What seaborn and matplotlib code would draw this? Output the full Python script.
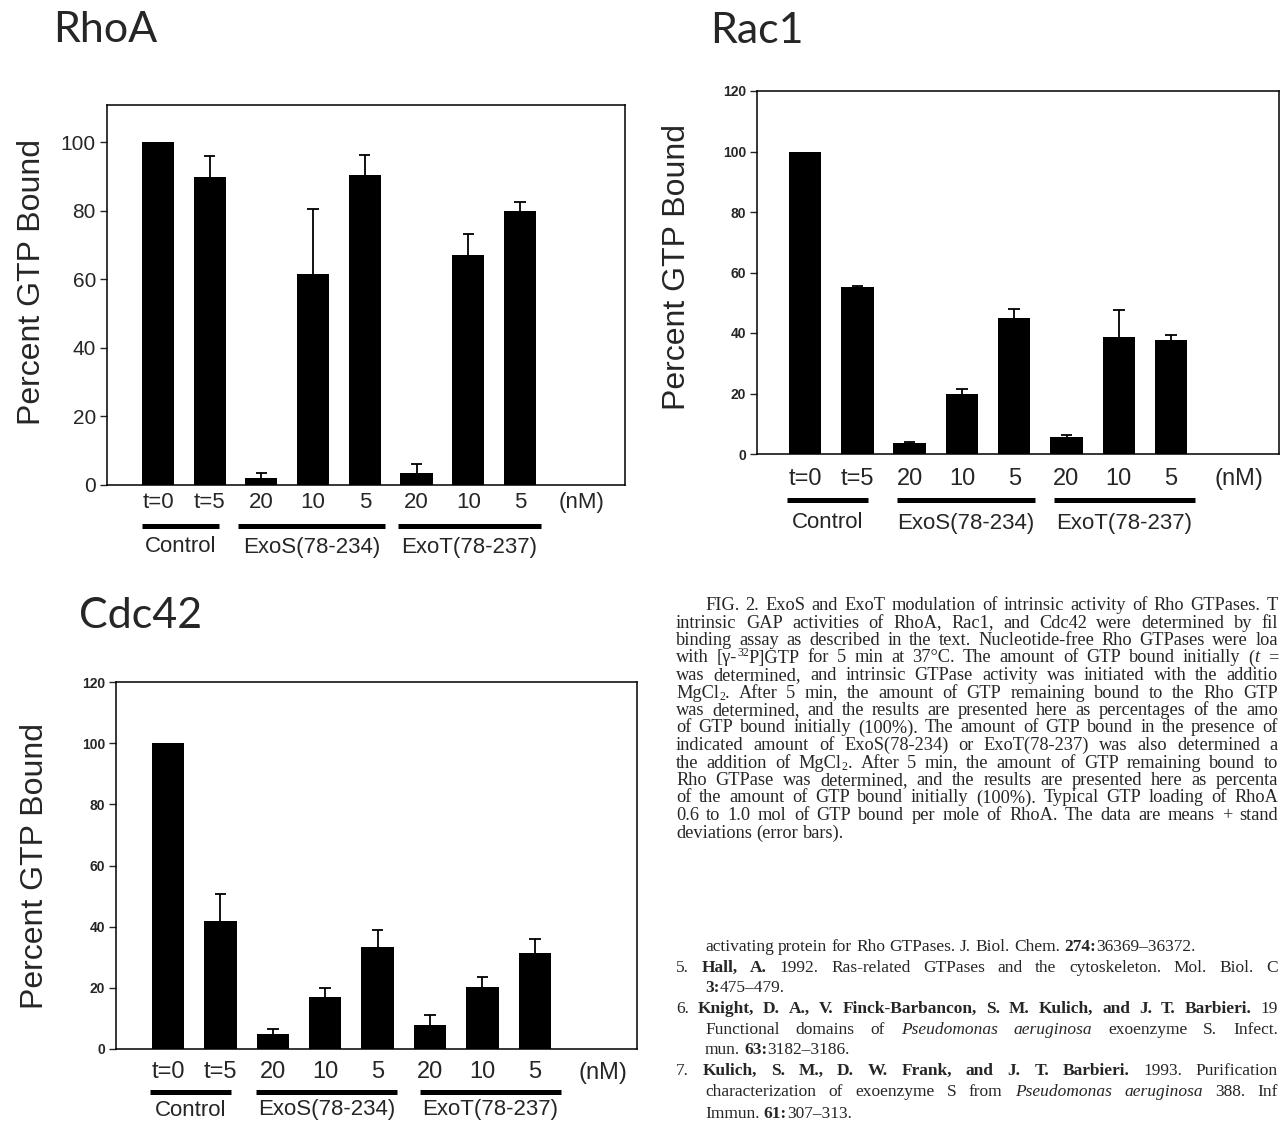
import matplotlib
matplotlib.use("Agg")
import matplotlib.pyplot as plt
import seaborn as sns
import pandas as pd
import numpy as np

# --- data (percent GTP bound, mean and +SD) ---
cond_keys = ["c0", "c5", "s20", "s10", "s5", "t20", "t10", "t5"]
cond_labels = ["t=0", "t=5", "20", "10", "5", "20", "10", "5"]
group_names = ["Control", "ExoS(78-234)", "ExoT(78-237)"]

rhoa_mean = [100, 89.7, 2.1, 61.5, 90.3, 3.6, 67.1, 79.8]
rhoa_err = [0, 6.1, 1.3, 19.0, 6.0, 2.6, 6.2, 2.7]

rac1_mean = [100, 55.1, 3.5, 20.0, 45.1, 5.7, 38.8, 37.6]
rac1_err = [0, 0.3, 0.4, 1.6, 2.8, 0.5, 8.9, 1.7]

cdc42_mean = [100, 41.7, 4.8, 17.1, 33.2, 7.7, 20.3, 31.3]
cdc42_err = [0, 9.0, 1.9, 2.8, 5.6, 3.5, 3.1, 4.7]

W, H = 1281, 1122

sns.set_style("ticks")
plt.rcParams["font.family"] = ["Liberation Sans", "DejaVu Sans"]
plt.rcParams["axes.edgecolor"] = "black"

fig = plt.figure(figsize=(W / 100, H / 100), dpi=100)
fig.patch.set_facecolor("white")


def add_ax(left, top, right, bottom):
    return fig.add_axes([left / W, 1 - bottom / H, (right - left) / W, (bottom - top) / H])


def draw_panel(ax, means, errs, box, x0, step, ymax, yticks, ytick_font,
               xfont, xpad, spans, line_off, label_off, nm_x):
    left, top, right, bottom = box
    ax_h = bottom - top
    df = pd.DataFrame({"cond": cond_keys, "pct": means})
    sns.barplot(data=df, x="cond", y="pct", order=cond_keys, color="black",
                saturation=1, width=0.62, errorbar=None, linewidth=0, ax=ax)
    # upper-only error bars
    idx = np.array([i for i, e in enumerate(errs) if e > 0])
    m = np.array(means)[idx]
    tops = m + np.array(errs)[idx]
    ax.vlines(idx, m, tops, colors="black", lw=1.3, zorder=3)
    ax.hlines(tops, idx - 0.11, idx + 0.11, colors="black", lw=1.3, zorder=3)
    ax.set_xlim((left - x0) / step, (right - x0) / step)
    ax.set_ylim(0, ymax)
    ax.set_yticks(yticks)
    ax.set_yticklabels([str(v) for v in yticks], **ytick_font)
    ax.set_xticks(range(len(cond_labels)))
    ax.set_xticklabels(cond_labels, fontsize=xfont)
    ax.tick_params(axis="x", length=0, pad=xpad)
    ax.tick_params(axis="y", direction="out", length=5, width=1, pad=3)
    ax.set_xlabel("")
    ax.set_ylabel("")
    for s in ax.spines.values():
        s.set_visible(True)
        s.set_linewidth(1.1)
    ax.annotate("(nM)", xy=(nm_x, 0), xycoords=("data", "axes fraction"),
                xytext=(0, -xpad), textcoords="offset points",
                ha="center", va="top", fontsize=xfont)
    tr = ax.get_xaxis_transform()
    for (a, b), name in zip(spans, group_names):
        ax.plot([a, b], [-line_off / ax_h] * 2, color="black", lw=3.6,
                solid_capstyle="butt", transform=tr, clip_on=False)
        ax.text((a + b) / 2, -label_off / ax_h, name, transform=tr,
                ha="center", va="center", fontsize=16)


title_font = dict(fontsize=31, family=["Lato", "DejaVu Sans"], fontweight="normal",
                  va="baseline")
ylab_font = dict(fontsize=23, rotation=90, ha="center", va="center")

# RhoA
box = (107, 105, 625, 485)
ax1 = add_ax(*box)
draw_panel(ax1, rhoa_mean, rhoa_err, box, 158, 51.7, 110.8, [0, 20, 40, 60, 80, 100],
           dict(fontsize=15), 16, 5,
           [(-0.31, 1.18), (1.55, 4.39), (4.64, 7.41)], 41, 62, 8.2)
fig.text(53 / W, 1 - 42 / H, "RhoA", **title_font)
fig.text(32 / W, 1 - 282 / H, "Percent GTP Bound", **ylab_font)

# Rac1
box = (757, 91, 1279, 454)
ax2 = add_ax(*box)
draw_panel(ax2, rac1_mean, rac1_err, box, 805, 52.3, 120, [0, 20, 40, 60, 80, 100, 120],
           dict(fontsize=10, fontweight="bold"), 17, 10,
           [(-0.34, 1.2), (1.76, 4.4), (4.77, 7.45)], 46, 69, 8.3)
fig.text(710 / W, 1 - 43 / H, "Rac1", **title_font)
fig.text(677 / W, 1 - 267 / H, "Percent GTP Bound", **ylab_font)

# Cdc42
box = (116, 682, 637, 1049)
ax3 = add_ax(*box)
draw_panel(ax3, cdc42_mean, cdc42_err, box, 168, 52.4, 120, [0, 20, 40, 60, 80, 100, 120],
           dict(fontsize=10, fontweight="bold"), 17, 9,
           [(-0.34, 1.2), (1.68, 4.37), (4.81, 7.5)], 43, 61, 8.3)
fig.text(79 / W, 1 - 628 / H, "Cdc42", **title_font)
fig.text(35 / W, 1 - 866 / H, "Percent GTP Bound", **ylab_font)

# --- caption and reference text: serif, placed word by word, justified ---
renderer = fig.canvas.get_renderer()
RIGHT = 1278


def put_line(x0, y, runs, size, justify):
    sp = 0.25 * size * 100 / 72
    toks = []
    pending = False
    for txt, kind in runs:
        parts = txt.split(" ")
        for j, p in enumerate(parts):
            if j > 0:
                pending = True
            if p == "":
                continue
            toks.append((p, kind, pending and len(toks) > 0))
            pending = False
    items = []
    for word, kind, gap in toks:
        kw = dict(family=["Liberation Serif", "DejaVu Serif"], fontsize=size, va="baseline")
        dy = 0
        if kind == "b":
            kw["fontweight"] = "bold"
        elif kind == "i":
            kw["fontstyle"] = "italic"
        elif kind == "sup":
            kw["fontsize"] = size * 0.65
            dy = -6
        elif kind == "sub":
            kw["fontsize"] = size * 0.65
            dy = 3
        t = fig.text(0, 1 - (y + dy) / H, word, **kw)
        w = t.get_window_extent(renderer=renderer).width
        items.append((t, w, gap, y + dy))
    n_gaps = sum(1 for it in items if it[2])
    total = sum(it[1] for it in items)
    g = sp
    if justify and n_gaps:
        g = max(sp, (RIGHT - x0 - total) / n_gaps)
    x = x0
    for t, w, gap, yy in items:
        if gap:
            x += g
        t.set_position((x / W, 1 - yy / H))
        x += w


caption = [
    (705, True, [("FIG. 2. ExoS and ExoT modulation of intrinsic activity of Rho GTPases. T", "n")]),
    (676, True, [("intrinsic GAP activities of RhoA, Rac1, and Cdc42 were determined by fil", "n")]),
    (676, True, [("binding assay as described in the text. Nucleotide-free Rho GTPases were loa", "n")]),
    (676, True, [("with [γ-", "n"), ("32", "sup"), ("P]GTP for 5 min at 37°C. The amount of GTP bound initially (", "n"),
                 ("t", "i"), (" =", "n")]),
    (676, True, [("was determined, and intrinsic GTPase activity was initiated with the additio", "n")]),
    (676, True, [("MgCl", "n"), ("2", "sub"), (". After 5 min, the amount of GTP remaining bound to the Rho GTP", "n")]),
    (676, True, [("was determined, and the results are presented here as percentages of the amo", "n")]),
    (676, True, [("of GTP bound initially (100%). The amount of GTP bound in the presence of", "n")]),
    (676, True, [("indicated amount of ExoS(78-234) or ExoT(78-237) was also determined a", "n")]),
    (676, True, [("the addition of MgCl", "n"), ("2", "sub"), (". After 5 min, the amount of GTP remaining bound to", "n")]),
    (676, True, [("Rho GTPase was determined, and the results are presented here as percenta", "n")]),
    (676, True, [("of the amount of GTP bound initially (100%). Typical GTP loading of RhoA", "n")]),
    (676, True, [("0.6 to 1.0 mol of GTP bound per mole of RhoA. The data are means + stand", "n")]),
    (676, False, [("deviations (error bars).", "n")]),
]
for i, (x, just, runs) in enumerate(caption):
    put_line(x, 610 + i * 17.5, runs, 13.2, just)

refs = [
    (705, False, [("activating protein for Rho GTPases. J. Biol. Chem. ", "n"), ("274:", "b"), ("36369–36372.", "n")]),
    (676, True, [("5. ", "n"), ("Hall, A.", "b"), (" 1992. Ras-related GTPases and the cytoskeleton. Mol. Biol. C", "n")]),
    (705, False, [("3:", "b"), ("475–479.", "n")]),
    (676, True, [("6. ", "n"), ("Knight, D. A., V. Finck-Barbancon, S. M. Kulich, and J. T. Barbieri.", "b"), (" 19", "n")]),
    (705, True, [("Functional domains of ", "n"), ("Pseudomonas aeruginosa", "i"), (" exoenzyme S. Infect.", "n")]),
    (705, False, [("mun. ", "n"), ("63:", "b"), ("3182–3186.", "n")]),
    (676, True, [("7. ", "n"), ("Kulich, S. M., D. W. Frank, and J. T. Barbieri.", "b"), (" 1993. Purification", "n")]),
    (705, True, [("characterization of exoenzyme S from ", "n"), ("Pseudomonas aeruginosa", "i"), (" 388. Inf", "n")]),
    (705, False, [("Immun. ", "n"), ("61:", "b"), ("307–313.", "n")]),
]
ref_base = [951, 972, 992, 1013, 1034, 1054, 1075, 1096, 1118]
for (x, just, runs), yb in zip(refs, ref_base):
    put_line(x, yb, runs, 12.5, just)

fig.savefig("out.png", dpi=100, facecolor="white")
